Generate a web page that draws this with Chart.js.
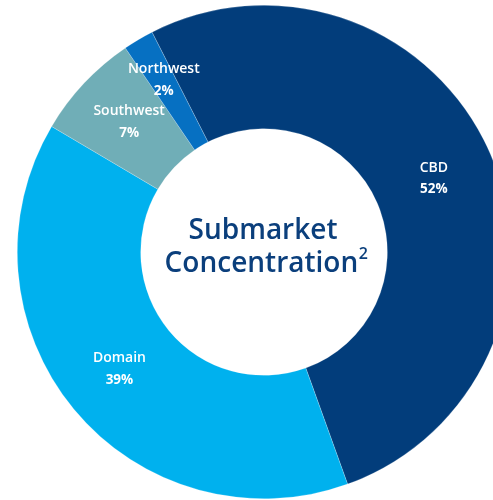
<!DOCTYPE html>
<html>
<head>
<meta charset="utf-8">
<script src="https://cdn.jsdelivr.net/npm/chart.js@4.4.1/dist/chart.umd.min.js"></script>
<style>
  html, body { margin: 0; padding: 0; background: #fff; }
  body { width: 493px; height: 500px; overflow: hidden; position: relative; }
  #wrap { position: absolute; left: 17px; top: 5px; width: 494px; height: 494px; }
</style>
</head>
<body>
<div id="wrap"><canvas id="chart" width="494" height="494"></canvas></div>
<script>
const categories = ['CBD', 'Domain', 'Southwest', 'Northwest'];
const shares = [52, 39, 7, 2];
const sliceColors = ['#023d7b', '#00b1ee', '#70aeb7', '#0670c2'];
const centerTitle = ['Submarket', 'Concentration', '2'];

// small nudges so the labels sit where the original has them
const labelNudge = { CBD: [0, 0], Domain: [-2, -1], Southwest: [0, -3], Northwest: [-6, -13] };

// draws the name + percent inside each slice
const sliceLabels = {
    id: 'sliceLabels',
    afterDatasetsDraw(chart) {
        const ctx = chart.ctx;
        const meta = chart.getDatasetMeta(0);
        ctx.save();
        ctx.fillStyle = '#ffffff';
        ctx.textAlign = 'center';
        ctx.textBaseline = 'middle';
        meta.data.forEach((arc, i) => {
            const p = arc.getCenterPoint();
            const n = labelNudge[categories[i]] || [0, 0];
            const x = p.x + n[0], y = p.y + n[1];
            ctx.font = '600 14px "Open Sans"';
            ctx.fillText(categories[i], x, y - 11);
            ctx.font = '700 13.5px "Open Sans"';
            ctx.fillText(shares[i] + '%', x, y + 11);
        });
        ctx.restore();
    }
};

const centerText = {
    id: 'centerText',
    afterDraw(chart) {
        const ctx = chart.ctx;
        const arc = chart.getDatasetMeta(0).data[0];
        ctx.save();
        ctx.fillStyle = '#0b3f7c';
        ctx.textBaseline = 'alphabetic';
        ctx.font = '600 28px "Open Sans"';
        ctx.textAlign = 'center';
        ctx.fillText(centerTitle[0], arc.x - 1, arc.y - 13);
        // second line with a small raised "2"
        const w1 = ctx.measureText(centerTitle[1]).width;
        ctx.font = '600 16px "Open Sans"';
        const w2 = ctx.measureText(centerTitle[2]).width;
        const left = arc.x + 2 - (w1 + w2) / 2;
        ctx.textAlign = 'left';
        ctx.font = '600 28px "Open Sans"';
        ctx.fillText(centerTitle[1], left, arc.y + 20);
        ctx.font = '600 16px "Open Sans"';
        ctx.fillText(centerTitle[2], left + w1 + 0.5, arc.y + 7);
        ctx.restore();
    }
};

new Chart(document.getElementById('chart'), {
    type: 'doughnut',
    data: {
        labels: categories,
        datasets: [{
            data: shares,
            backgroundColor: sliceColors,
            borderColor: 'rgba(255,255,255,0.35)',
            borderWidth: 0.6
        }]
    },
    options: {
        responsive: false,
        animation: false,
        cutout: '50%',
        rotation: -27,
        layout: { padding: 0 },
        plugins: {
            legend: { display: false },
            tooltip: { enabled: false }
        }
    },
    plugins: [sliceLabels, centerText]
});
</script>
</body>
</html>
